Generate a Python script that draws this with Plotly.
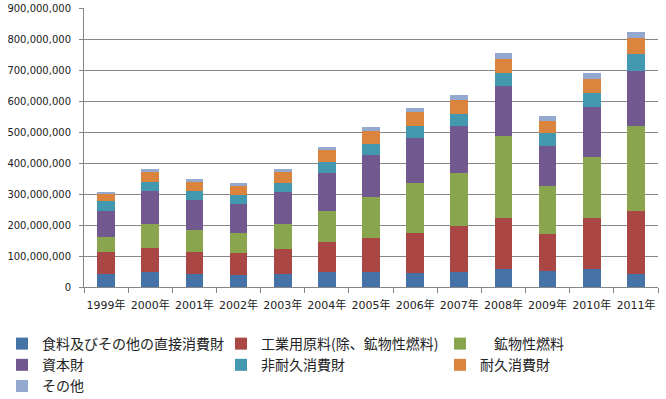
import plotly.graph_objects as go

years = ["1999年", "2000年", "2001年", "2002年", "2003年", "2004年", "2005年",
         "2006年", "2007年", "2008年", "2009年", "2010年", "2011年"]

# values in units of 1,000,000
food = [43, 47, 43, 40, 43, 49, 49, 46, 49, 59, 53, 59, 43]
industrial = [71, 80, 71, 71, 81, 97, 110, 129, 149, 165, 119, 165, 203]
fuel = [48, 77, 71, 64, 80, 100, 132, 161, 171, 264, 155, 196, 274]
capital = [84, 107, 97, 94, 103, 123, 136, 146, 151, 161, 129, 162, 178]
nondurable = [30, 29, 29, 29, 29, 35, 35, 38, 39, 42, 42, 45, 54]
durable = [25, 32, 29, 29, 36, 39, 42, 45, 45, 45, 38, 45, 52]
other = [6, 10, 9, 9, 10, 10, 13, 13, 16, 20, 16, 19, 20]

names = ["食料及びその他の直接消費財", "工業用原料(除、鉱物性燃料)", "\u3000鉱物性燃料",
         "資本財", "非耐久消費財", "耐久消費財", "その他"]
colors = ["#4572A7", "#AA4643", "#89A54E", "#71588F", "#4198AF", "#DB843D", "#93A9CF"]
series = [food, industrial, fuel, capital, nondurable, durable, other]

fig = go.Figure()
for name, vals, col in zip(names, series, colors):
    fig.add_trace(go.Bar(
        x=years, y=[v * 1_000_000 for v in vals], name=name,
        marker=dict(color=col, line=dict(width=0)),
    ))

fig.update_layout(
    width=666, height=399,
    barmode="stack", bargap=0.6,
    plot_bgcolor="white", paper_bgcolor="white",
    margin=dict(l=84, r=8, t=8, b=112, autoexpand=False),
    font=dict(family="DejaVu Sans, Noto Sans CJK JP", size=10, color="#222"),
    legend=dict(
        orientation="h", xref="paper", x=-0.1429, xanchor="left",
        yref="paper", y=-0.147, yanchor="top",
        entrywidth=174, entrywidthmode="pixels", traceorder="normal",
        font=dict(family="Noto Sans CJK JP", size=14, color="#222"),
    ),
    showlegend=True,
)
fig.update_xaxes(
    type="category", showline=True, linecolor="#868686", linewidth=1,
    ticks="outside", tickson="boundaries", ticklen=5, tickcolor="#868686",
    showgrid=False, tickangle=0, automargin=False, ticklabelstandoff=8,
    tickfont=dict(family="DejaVu Sans, Noto Sans CJK JP", size=11),
)
fig.update_yaxes(
    range=[0, 900_000_000], dtick=100_000_000, tickformat=",",
    showline=True, linecolor="#868686", linewidth=1,
    ticks="outside", ticklen=4, tickcolor="#868686", automargin=False,
    showgrid=True, gridcolor="#878787", gridwidth=1, zeroline=False,
    ticklabelstandoff=6,
    tickfont=dict(family="DejaVu Sans", size=10),
)

fig.write_html("out.html", config={"displayModeBar": False},
               post_script="document.body.style.margin='0';")
